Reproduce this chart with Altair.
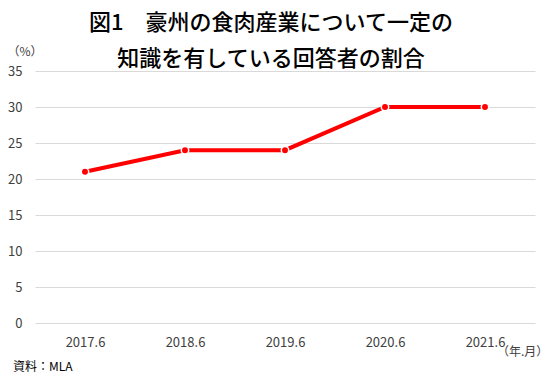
import altair as alt
import pandas as pd

periods = ["2017.6", "2018.6", "2019.6", "2020.6", "2021.6"]
values = [21, 24, 24, 30, 30]
title_lines = ["図1　豪州の食肉産業について一定の", "知識を有している回答者の割合"]
y_unit = "（%）"
x_unit = "（年.月）"
source = "資料：MLA"

df = pd.DataFrame({"period": periods, "value": values})

FONT = "Noto Sans CJK JP"
LABEL_COLOR = "#404040"

x_enc = alt.X("period:O", sort=periods,
              scale=alt.Scale(type="point", padding=0.5),
              axis=alt.Axis(title=None, labelAngle=0, domain=False, ticks=False,
                            grid=False, labelPadding=13, labelFontSize=13,
                            labelColor=LABEL_COLOR, labelFont=FONT))
y_enc = alt.Y("value:Q", scale=alt.Scale(domain=[0, 35]),
              axis=alt.Axis(title=None, values=[0, 5, 10, 15, 20, 25, 30, 35],
                            domain=False, ticks=False, grid=True,
                            gridColor="#d9d9d9", gridWidth=1, labelPadding=13,
                            labelFontSize=13, labelColor=LABEL_COLOR, labelFont=FONT))

line = alt.Chart(df).mark_line(color="#ff0000", strokeWidth=4).encode(x=x_enc, y=y_enc)
pts = alt.Chart(df).mark_point(filled=True, color="#ff0000", size=55,
                                stroke="white", strokeWidth=1.5, opacity=1,
                                strokeOpacity=1, fillOpacity=1).encode(x=x_enc, y=y_enc)

one = pd.DataFrame({"a": [0]})

def txt(text, x, y, size, align="center", color="#000000", weight="normal"):
    return alt.Chart(one).mark_text(text=text, font=FONT, fontSize=size, align=align,
                                     baseline="middle", color=color,
                                     fontWeight=weight).encode(
        x=alt.value(x), y=alt.value(y))

t1 = txt(title_lines[0], 236, -48, 22, weight=500)
t2 = txt(title_lines[1], 236, -12, 22, weight=500)
tu = txt(y_unit, -10, -19, 12, color=LABEL_COLOR)
tx = txt(x_unit, 462, 281, 12, align="left", color=LABEL_COLOR)
ts = txt(source, -22, 296, 12, align="left", color="#000000")

chart = alt.layer(line, pts, t1, t2, tu, tx, ts).properties(
    width=500, height=252,
    autosize=alt.AutoSizeParams(type="none"),
    padding={"left": 35, "top": 71, "right": 18, "bottom": 53},
    background="white",
).configure_view(stroke=None)

chart.save("out.html", embed_options={"renderer": "svg", "actions": False})
